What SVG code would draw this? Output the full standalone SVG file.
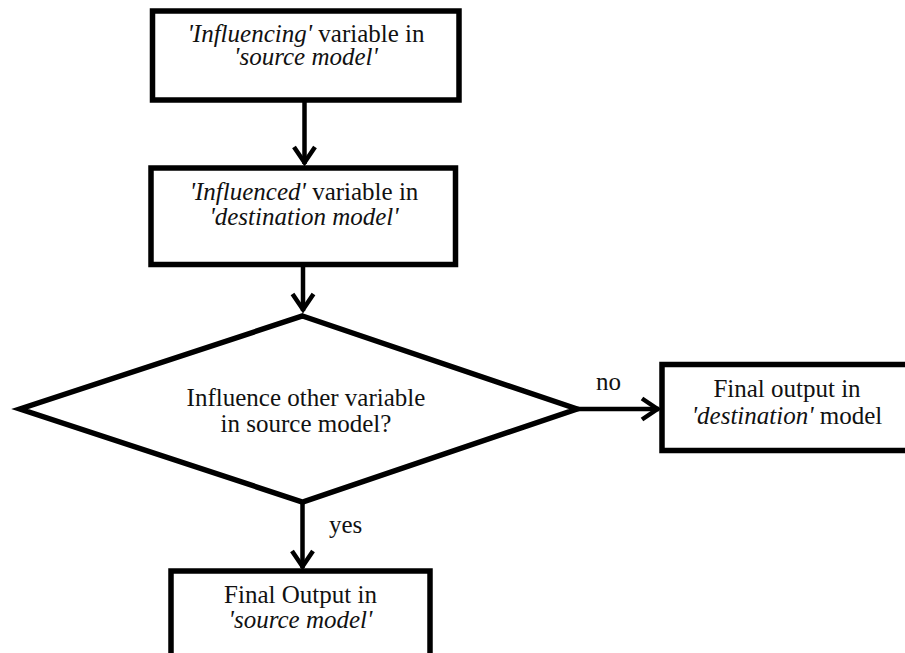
<svg xmlns="http://www.w3.org/2000/svg" width="905" height="653" viewBox="0 0 905 653">
<style>
text{font-family:"Liberation Serif","Times New Roman",serif;font-size:25px;fill:#111}
.t{text-anchor:middle}
.i{font-style:italic}
.box{fill:#fff;stroke:#000;stroke-width:5.5}
.c{fill:none;stroke:#000;stroke-width:4.5}
</style>
<defs>
<marker id="arr" markerUnits="userSpaceOnUse" viewBox="-24 -14 28 28" refX="0" refY="0" markerWidth="28" markerHeight="28" orient="auto">
<path d="M-17,-10.5 L-1.5,0 L-17,10.5" fill="none" stroke="#000" stroke-width="4.5" stroke-linejoin="miter"/>
</marker>
</defs>
<rect width="905" height="653" fill="#fff"/>
<g id="connectors">
<line class="c" x1="304.5" y1="100" x2="304.5" y2="164" marker-end="url(#arr)"/>
<line class="c" x1="303" y1="265" x2="303" y2="311" marker-end="url(#arr)"/>
<line class="c" x1="577" y1="409" x2="659" y2="409" marker-end="url(#arr)"/>
<line class="c" x1="302.5" y1="502" x2="302.5" y2="568" marker-end="url(#arr)"/>
<text x="596" y="390">no</text>
<text x="329" y="533">yes</text>
</g>
<g id="node1">
<rect class="box" x="152.5" y="11" width="306.5" height="89"/>
<text class="t" x="306" y="42"><tspan class="i">'Influencing'</tspan> variable in</text>
<text class="t i" x="306" y="65">'source model'</text>
</g>
<g id="node2">
<rect class="box" x="151" y="168" width="304.5" height="96.5"/>
<text class="t" x="304" y="200"><tspan class="i">'Influenced'</tspan> variable in</text>
<text class="t i" x="304" y="225">'destination model'</text>
</g>
<g id="decision">
<polygon class="box" points="302.5,316 577,409 302.5,502 20,409" stroke-linejoin="miter" stroke-miterlimit="10"/>
<text class="t" x="306" y="406">Influence other variable</text>
<text class="t" x="306" y="432">in source model?</text>
</g>
<g id="node3">
<rect class="box" x="662" y="364.5" width="248" height="86"/>
<text class="t" x="787" y="396.5">Final output in</text>
<text class="t" x="787" y="424"><tspan class="i">'destination'</tspan> model</text>
</g>
<g id="node4">
<rect class="box" x="171" y="571" width="259" height="90"/>
<text class="t" x="300.5" y="603">Final Output in</text>
<text class="t i" x="300.5" y="628">'source model'</text>
</g>
</svg>
